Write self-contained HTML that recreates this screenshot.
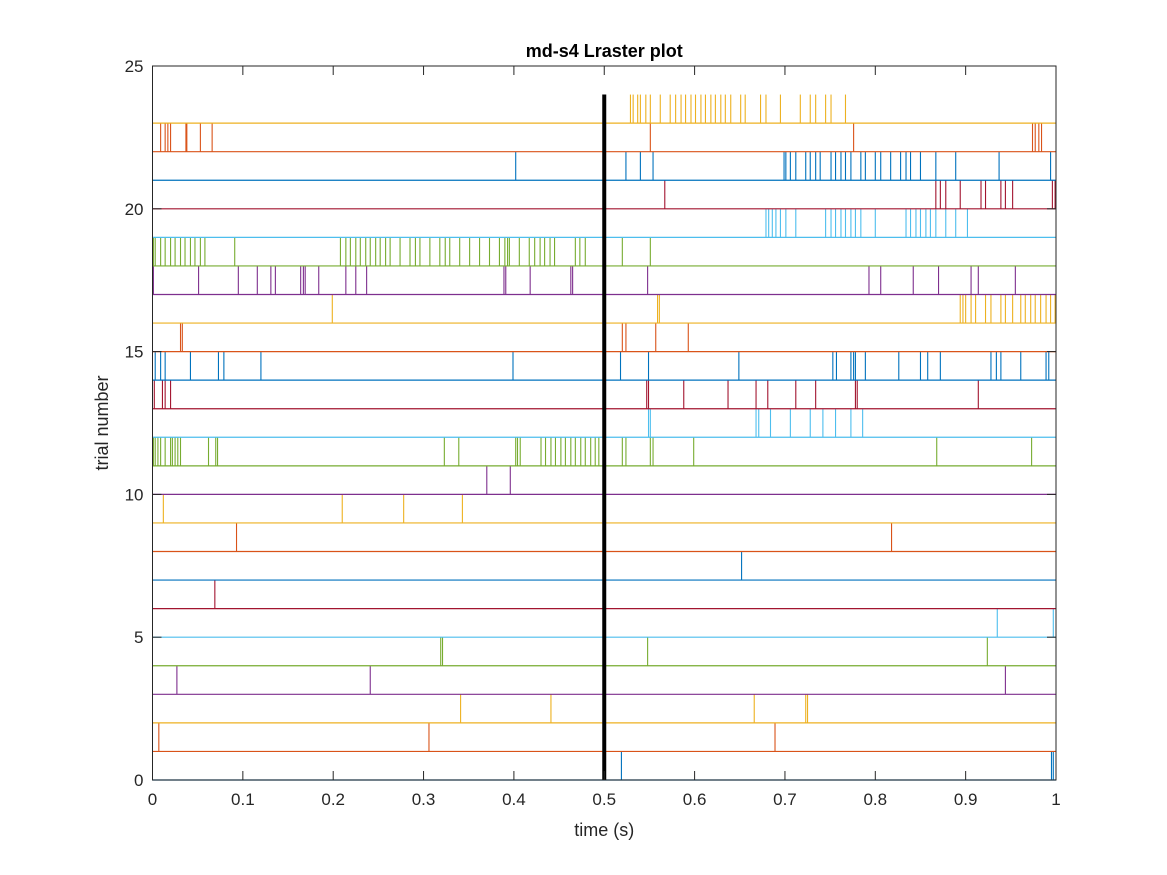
<!DOCTYPE html>
<html><head><meta charset="utf-8"><style>
html,body{margin:0;padding:0;background:#fff;}
svg{display:block;font-family:"Liberation Sans",Helvetica,Arial,sans-serif;}
</style></head><body>
<svg id="chart" width="1167" height="875" viewBox="0 0 1167 875" xmlns="http://www.w3.org/2000/svg">
<rect x="0" y="0" width="1167" height="875" fill="#fff"/>
<g id="marks"></g>
<g id="axes"></g>
</svg>
<script>
const xTicks = [0,0.1,0.2,0.3,0.4,0.5,0.6,0.7,0.8,0.9,1];
const xTickLabels = ["0","0.1","0.2","0.3","0.4","0.5","0.6","0.7","0.8","0.9","1"];
const yTicks = [0,5,10,15,20,25];
const yTickLabels = ["0","5","10","15","20","25"];
const trialColors = ["#0072BD","#D95319","#EDB120","#7E2F8E","#77AC30","#4DBEEE","#A2142F"];
const eventTime = 0.5;
const eventTrialMax = 24;
// spike times in ms per trial
const spikes = [
[519,995,997],
[7,306,689],
[341,441,666,723,725],
[27,241,944],
[319,321,548,924],
[935,997],
[69],
[652],
[93,818],
[12,210,278,343],
[370,396],
[1,3,6,9,14,20,22,25,28,31,62,70,72,323,339,402,404,407,430,435,441,446,452,457,463,468,474,479,485,490,494,520,524,551,554,599,868,973],
[549,551,668,671,684,706,728,742,756,773,786],
[2,11,14,20,547,549,588,637,668,681,712,734,778,780,914],
[3,9,14,42,73,79,120,399,518,549,649,753,757,773,776,778,789,826,850,858,872,928,934,939,961,989,992],
[31,33,520,524,557,593],
[199,559,561,894,897,900,906,911,922,928,939,944,952,961,966,972,977,983,989,994,999],
[1,51,95,116,131,136,164,167,169,184,214,225,237,389,391,418,463,465,548,793,806,842,870,906,914,955],
[1,3,9,14,20,25,31,36,42,47,53,58,91,208,214,219,225,230,236,241,247,252,258,263,274,285,291,296,307,318,324,329,340,351,362,373,384,390,393,395,406,417,423,429,434,440,445,468,473,479,520,551],
[679,682,686,690,695,701,712,745,751,756,762,767,773,778,784,800,834,839,845,850,856,861,867,878,889,902],
[567,867,872,878,894,917,922,939,944,952,996,999],
[402,524,540,554,699,701,706,712,723,728,734,739,751,756,762,767,773,784,789,800,806,817,828,834,839,850,867,889,937,994],
[9,14,17,20,37,38,53,66,551,776,974,977,981,984],
[529,532,537,540,546,551,562,573,579,585,590,596,601,607,612,618,623,629,634,640,651,656,673,679,695,717,728,734,745,751,767]
];

const L=152.5,R=1056,T=66,B=780;
const sx=v=>L+(v-0)/(1-0)*(R-L);
const sy=v=>B-(v-0)/(25-0)*(B-T);
const NS="http://www.w3.org/2000/svg";
const marks=document.getElementById('marks');
const axes=document.getElementById('axes');
function mk(tag,attrs,parent){const e=document.createElementNS(NS,tag);for(const k in attrs)e.setAttribute(k,attrs[k]);parent.appendChild(e);return e;}

spikes.forEach((arr,k)=>{
  const c=trialColors[k%trialColors.length];
  const g=mk('g',{},marks);
  
  
  const base=mk('line',{x1:sx(0),x2:sx(1),y1:sy(k),y2:sy(k),stroke:c,'stroke-width':1.2},g);
  
  
  arr.forEach(ms=>{
    const x=sx(ms/1000);
    const s=mk('line',{x1:x,x2:x,y1:sy(k),y2:sy(k+1),stroke:c,'stroke-width':1.1},g);
    
    
  });
});
const ev=mk('line',{x1:sx(eventTime),x2:sx(eventTime),y1:sy(0),y2:sy(eventTrialMax),stroke:'#000','stroke-width':4},marks);



const box=mk('rect',{x:L,y:T,width:R-L,height:B-T,fill:'none',stroke:'#262626','stroke-width':1},axes);


xTicks.forEach((v,i)=>{
  const x=sx(v);
  mk('line',{x1:x,x2:x,y1:B,y2:B-9,stroke:'#262626'},axes);
  mk('line',{x1:x,x2:x,y1:T,y2:T+9,stroke:'#262626'},axes);
  const t=mk('text',{x:x,y:B+25,'text-anchor':'middle','font-size':17,fill:'#262626'},axes);
  t.textContent=xTickLabels[i];
  
  
});
yTicks.forEach((v,i)=>{
  const y=sy(v);
  mk('line',{x1:L,x2:L+9,y1:y,y2:y,stroke:'#262626'},axes);
  mk('line',{x1:R,x2:R-9,y1:y,y2:y,stroke:'#262626'},axes);
  const t=mk('text',{x:L-9,y:y+6,'text-anchor':'end','font-size':17,fill:'#262626'},axes);
  t.textContent=yTickLabels[i];
  
  
});
const xt=mk('text',{x:(L+R)/2,y:836,'text-anchor':'middle','font-size':18,fill:'#262626'},axes);
xt.textContent='time (s)';


const yt=mk('text',{x:0,y:0,'text-anchor':'middle','font-size':18,fill:'#262626',transform:'translate(108,'+((T+B)/2)+') rotate(-90)'},axes);
yt.textContent='trial number';


const ti=mk('text',{x:(L+R)/2,y:57,'text-anchor':'middle','font-size':18,'font-weight':'bold',fill:'#000'},axes);
ti.textContent='md-s4 Lraster plot';


</script>
</body></html>
